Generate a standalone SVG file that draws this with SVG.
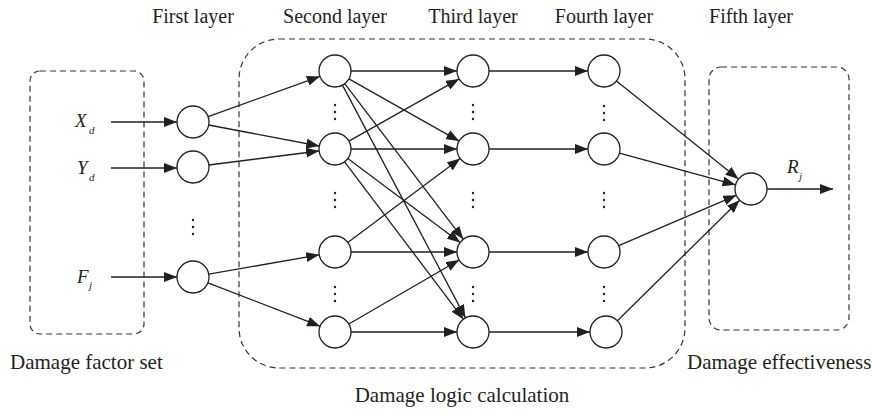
<svg xmlns="http://www.w3.org/2000/svg" width="872" height="414" viewBox="0 0 872 414">
<style>
.box{fill:none;stroke:#333;stroke-width:1.2;stroke-dasharray:6 4}
.node{fill:#fff;stroke:#231f20;stroke-width:1.3}
.edge{stroke:#231f20;stroke-width:1.3;fill:none;marker-end:url(#arr)}
.lbl{font-family:"Liberation Serif",serif;font-size:20px;fill:#231f20}
.big{font-size:21px}
.var{font-family:"Liberation Serif",serif;font-style:italic;font-size:19px;fill:#231f20}
.sub{font-family:"Liberation Serif",serif;font-style:italic;font-size:11px;fill:#231f20}
.dot{fill:#231f20}
</style>
<defs>
<marker id="arr" markerWidth="14" markerHeight="10" refX="13" refY="5" orient="auto" markerUnits="userSpaceOnUse">
<path d="M0,0 L13,5 L0,10 z" fill="#231f20"/>
</marker>
<g id="vdots"><circle class="dot" cx="0" cy="-7" r="1.2"/><circle class="dot" cx="0" cy="0" r="1.2"/><circle class="dot" cx="0" cy="7" r="1.2"/></g>
</defs>
<rect width="872" height="414" fill="#fff"/>

<g id="boxes">
<rect class="box" x="30" y="71" width="114" height="263" rx="10"/>
<rect class="box" x="239" y="39" width="446" height="329" rx="40"/>
<rect class="box" x="709" y="67" width="140" height="263" rx="12"/>
</g>

<g id="titles">
<text class="lbl" x="193" y="23" text-anchor="middle">First layer</text>
<text class="lbl" x="335" y="23" text-anchor="middle">Second layer</text>
<text class="lbl" x="473" y="23" text-anchor="middle">Third layer</text>
<text class="lbl" x="604" y="23" text-anchor="middle">Fourth layer</text>
<text class="lbl" x="751" y="23" text-anchor="middle">Fifth layer</text>
<text class="lbl big" x="10" y="369">Damage factor set</text>
<text class="lbl big" x="462" y="402" text-anchor="middle">Damage logic calculation</text>
<text class="lbl big" x="687" y="369">Damage effectiveness</text>
</g>

<g id="inputs">
<text class="var" x="75" y="127">X</text><text class="sub" x="89" y="134">d</text>
<text class="var" x="77" y="174">Y</text><text class="sub" x="89" y="181">d</text>
<text class="var" x="77" y="283">F</text><text class="sub" x="89" y="289">j</text>
<text class="var" x="787" y="173">R</text><text class="sub" x="799" y="180">j</text>
</g>

<g id="connectors">
<line class="edge" x1="111" y1="122" x2="177" y2="122"/>
<line class="edge" x1="111" y1="168" x2="177" y2="168"/>
<line class="edge" x1="111" y1="277" x2="177" y2="277"/>
<line class="edge" x1="208.1" y1="116.6" x2="319.9" y2="76.4"/>
<line class="edge" x1="208.7" y1="125" x2="319.3" y2="146"/>
<line class="edge" x1="208.9" y1="165" x2="319.1" y2="151"/>
<line class="edge" x1="208.8" y1="274.2" x2="319.2" y2="254.8"/>
<line class="edge" x1="207.9" y1="282.8" x2="320.1" y2="326.2"/>
<line class="edge" x1="351" y1="71" x2="457" y2="71"/>
<line class="edge" x1="348.9" y1="78.9" x2="459.1" y2="141.1"/>
<line class="edge" x1="344.7" y1="83.7" x2="463.3" y2="239.3"/>
<line class="edge" x1="342.5" y1="85.1" x2="465.5" y2="317.9"/>
<line class="edge" x1="348.9" y1="141.1" x2="459.1" y2="78.9"/>
<line class="edge" x1="351" y1="149" x2="457" y2="149"/>
<line class="edge" x1="347.8" y1="158.6" x2="460.2" y2="242.4"/>
<line class="edge" x1="344.6" y1="161.8" x2="463.4" y2="319.2"/>
<line class="edge" x1="347.8" y1="242.4" x2="460.2" y2="158.6"/>
<line class="edge" x1="351" y1="252" x2="457" y2="252"/>
<line class="edge" x1="348.8" y1="324" x2="459.2" y2="260"/>
<line class="edge" x1="351" y1="332" x2="457" y2="332"/>
<line class="edge" x1="489" y1="71" x2="588" y2="71"/>
<line class="edge" x1="489" y1="149" x2="588" y2="149"/>
<line class="edge" x1="489" y1="252" x2="588" y2="252"/>
<line class="edge" x1="489" y1="332" x2="590" y2="332"/>
<line class="edge" x1="616.5" y1="81" x2="738.5" y2="179"/>
<line class="edge" x1="619.4" y1="153.2" x2="735.6" y2="184.8"/>
<line class="edge" x1="618.7" y1="245.7" x2="736.3" y2="195.3"/>
<line class="edge" x1="617.4" y1="320.8" x2="739.6" y2="200.2"/>
<line class="edge" x1="767" y1="189" x2="833" y2="189"/>
</g>

<g id="layer1">
<circle id="n-xd" class="node" cx="193" cy="122" r="16"/>
<circle id="n-yd" class="node" cx="193" cy="167" r="16"/>
<circle id="n-fj" class="node" cx="193" cy="277" r="16"/>
<use href="#vdots" x="193" y="227"/>
</g>
<g id="layer2">
<circle id="n-b1" class="node" cx="335" cy="71" r="16"/>
<circle id="n-b2" class="node" cx="335" cy="149" r="16"/>
<circle id="n-b3" class="node" cx="335" cy="252" r="16"/>
<circle id="n-b4" class="node" cx="335" cy="332" r="16"/>
<use href="#vdots" x="335" y="112"/>
<use href="#vdots" x="335" y="200"/>
<use href="#vdots" x="335" y="294"/>
</g>
<g id="layer3">
<circle id="n-c1" class="node" cx="473" cy="71" r="16"/>
<circle id="n-c2" class="node" cx="473" cy="149" r="16"/>
<circle id="n-c3" class="node" cx="473" cy="252" r="16"/>
<circle id="n-c4" class="node" cx="473" cy="332" r="16"/>
<use href="#vdots" x="473" y="112"/>
<use href="#vdots" x="473" y="200"/>
<use href="#vdots" x="473" y="294"/>
</g>
<g id="layer4">
<circle id="n-d1" class="node" cx="604" cy="71" r="16"/>
<circle id="n-d2" class="node" cx="604" cy="149" r="16"/>
<circle id="n-d3" class="node" cx="604" cy="252" r="16"/>
<circle id="n-d4" class="node" cx="606" cy="332" r="16"/>
<use href="#vdots" x="604" y="113"/>
<use href="#vdots" x="604" y="200"/>
<use href="#vdots" x="604" y="294"/>
</g>
<g id="layer5">
<circle id="n-e" class="node" cx="751" cy="189" r="16"/>
</g>
</svg>
